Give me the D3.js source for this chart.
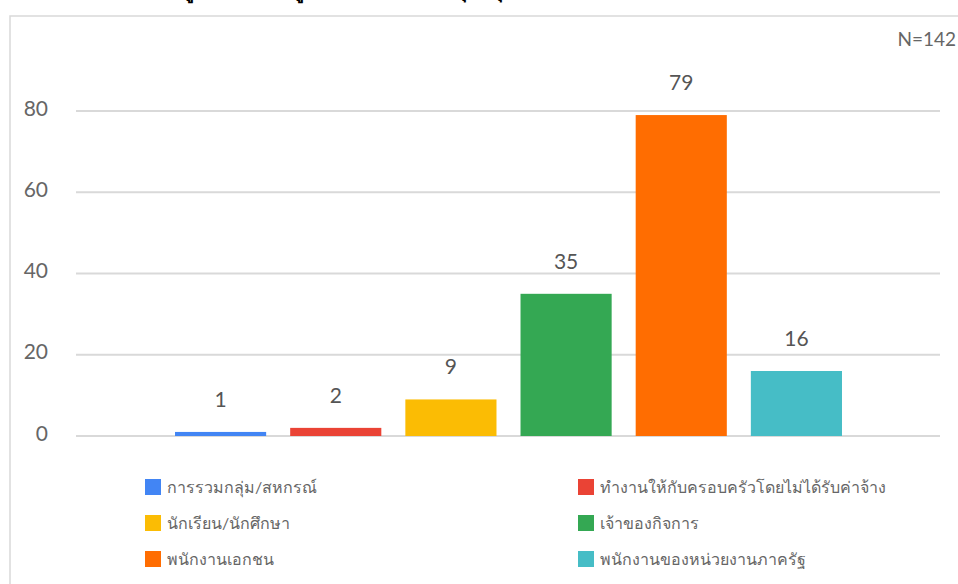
<!DOCTYPE html>
<html>
<head>
<meta charset="utf-8">
<script src="https://cdn.jsdelivr.net/npm/d3@7"></script>
<style>
  html, body { margin: 0; padding: 0; background: #fff; }
  svg { display: block; }
  text { font-family: Lato, "Noto Sans", sans-serif; }
</style>
</head>
<body>
<div id="chart"></div>
<script>
const categories = [
  "การรวมกลุ่ม/สหกรณ์",
  "ทำงานให้กับครอบครัวโดยไม่ได้รับค่าจ้าง",
  "นักเรียน/นักศึกษา",
  "เจ้าของกิจการ",
  "พนักงานเอกชน",
  "พนักงานของหน่วยงานภาครัฐ"
];
const values = [1, 2, 9, 35, 79, 16];
const colors = ["#4285f4", "#ea4335", "#fbbc04", "#34a853", "#ff6d01", "#46bdc6"];
const yTicks = [0, 20, 40, 60, 80];
const titleText = "ข้อมูลอาชีพของผู้ตอบแบบสอบถามทุกกลุ่ม";
const noteText = "N=142";

const W = 958, H = 584;
const svg = d3.select("#chart").append("svg").attr("width", W).attr("height", H);

// frame
svg.append("rect").attr("x", 10).attr("y", 16).attr("width", 1000).attr("height", 1000)
  .attr("fill", "none").attr("stroke", "#d9d9d9").attr("stroke-width", 1.5);

// clipped title (only its lower marks are visible, as in the reference)
svg.append("text").attr("x", 155).attr("y", -3)
  .attr("font-size", 20).attr("font-weight", "bold").attr("fill", "#000")
  .text(titleText);

svg.append("text").attr("x", 956).attr("y", 46).attr("text-anchor", "end")
  .attr("font-size", 19).attr("fill", "#666").text(noteText);

const y = d3.scaleLinear().domain([0, 80]).range([436, 111]);
const x = d3.scaleBand().domain(categories).range([163, 854])
  .paddingInner(24 / 115).paddingOuter(12 / 115);

// y axis labels
const yAxis = d3.axisLeft(y).tickValues(yTicks).tickSize(0).tickPadding(0);
const gAxis = svg.append("g").attr("transform", "translate(48,0)").call(yAxis);
gAxis.select(".domain").remove();
gAxis.selectAll("text").attr("font-size", 21).attr("fill", "#666")
  .attr("font-family", "Lato, sans-serif").attr("dy", "0.2em");

// gridlines
svg.append("g").selectAll("line").data(yTicks).join("line")
  .attr("x1", 76).attr("x2", 940)
  .attr("y1", d => y(d)).attr("y2", d => y(d))
  .attr("stroke", "#d9d9d9").attr("stroke-width", 2);

// bars
svg.append("g").selectAll("rect").data(values).join("rect")
  .attr("x", (d, i) => x(categories[i]))
  .attr("width", x.bandwidth())
  .attr("y", d => y(d))
  .attr("height", d => y(0) - y(d))
  .attr("fill", (d, i) => colors[i]);

// value labels
svg.append("g").selectAll("text").data(values).join("text")
  .attr("x", (d, i) => x(categories[i]) + x.bandwidth() / 2)
  .attr("y", d => y(d) - 25)
  .attr("text-anchor", "middle")
  .attr("font-size", 21).attr("fill", "#555")
  .text(d => d);

// legend
const legendX = [145, 578];
const legendY = [479, 515, 551];
const lg = svg.append("g").selectAll("g").data(categories).join("g")
  .attr("transform", (d, i) => `translate(${legendX[i % 2]},${legendY[Math.floor(i / 2)]})`);
lg.append("rect").attr("width", 16).attr("height", 16).attr("fill", (d, i) => colors[i]);
lg.append("text").attr("x", 22).attr("y", 14)
  .attr("font-size", 16).attr("fill", "#666")
  .text(d => d);
</script>
</body>
</html>
